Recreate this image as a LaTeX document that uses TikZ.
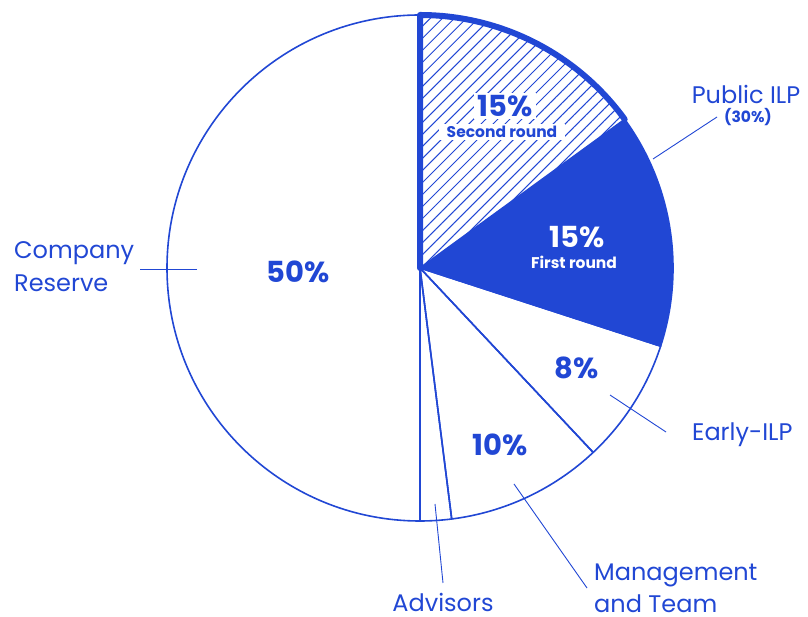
\documentclass[tikz,border=0pt]{standalone}
\usepackage{fontspec}
\setmainfont{Poppins}
\usetikzlibrary{patterns.meta,calc}
\definecolor{pblue}{RGB}{33,71,212}
\begin{document}
\begin{tikzpicture}[x=1pt,y=1pt,
  edge/.style={draw=pblue,line width=1.6pt,line join=round},
  leader/.style={draw=pblue,line width=0.9pt},
  biglabel/.style={text=pblue,font=\fontsize{24}{29}\selectfont,inner sep=0pt},
  pct/.style={text=pblue,font=\fontsize{29}{34}\selectfont\bfseries,inner sep=1pt},
  sub/.style={text=pblue,font=\fontsize{15.5}{18}\selectfont\bfseries,inner sep=1pt}]
\useasboundingbox (0,0) rectangle (808,617);
\def\R{253}
\coordinate (C) at (420,349);
% company reserve
\draw[edge] (C) -- ($(C)+(90:\R)$) arc[start angle=90,end angle=270,radius=\R] -- cycle;
% advisors
\draw[edge] (C) -- ($(C)+(-82.8:\R)$) arc[start angle=-82.8,end angle=-90,radius=\R] -- cycle;
% management
\draw[edge] (C) -- ($(C)+(-46.8:\R)$) arc[start angle=-46.8,end angle=-82.8,radius=\R] -- cycle;
% early
\draw[edge] (C) -- ($(C)+(-18:\R)$) arc[start angle=-18,end angle=-46.8,radius=\R] -- cycle;
% first round
\draw[edge,fill=pblue] (C) -- ($(C)+(36:\R)$) arc[start angle=36,end angle=-18,radius=\R] -- cycle;
% second round hatched
\fill[pattern={Lines[angle=45,distance=8.5pt,line width=1pt]},pattern color=pblue]
  (C) -- ($(C)+(90:\R)$) arc[start angle=90,end angle=36,radius=\R] -- cycle;
\draw[draw=pblue,line width=6pt,line join=round,line cap=round]
  ($(C)+(36:\R)$) arc[start angle=36,end angle=90,radius=\R] -- (C);
% percentage labels
\node[pct,fill=white,inner xsep=4pt,inner ysep=2pt] (p2) at (505,511) {15\%};
\node[sub,fill=white,inner xsep=8pt,inner ysep=2pt] (s2) at (502,485) {Second round};
\node[pct,text=white] (p1) at (577,380) {15\%};
\node[sub,text=white] (s1) at (574,355) {First round};
\node[pct] (p8) at (577,249) {8\%};
\node[pct] (p10) at (500,172) {10\%};
\node[pct] (p50) at (298,345) {50\%};
% outer labels
\node[biglabel] (lpub) at (746,523) {Public ILP};
\node[sub] (lpub2) at (748,500) {(30\%)};
\node[biglabel,anchor=west,align=left,font=\fontsize{24}{33}\selectfont] (lcomp) at (14,350) {Company\\Reserve};
\node[biglabel,anchor=west] (learly) at (692,182) {Early-ILP};
\node[biglabel] (ladv) at (443,15) {Advisors};
\node[biglabel,anchor=west,align=left,font=\fontsize{24}{32}\selectfont] (lman) at (594,29) {Management\\and Team};
% leader lines
\coordinate (a1) at (653,458); \coordinate (a2) at (717,500);
\coordinate (b1) at (197,348); \coordinate (b2) at (140,348);
\coordinate (c1) at (435,113); \coordinate (c2) at (443,34);
\coordinate (d1) at (514,133); \coordinate (d2) at (587,29);
\coordinate (e1) at (610,222); \coordinate (e2) at (666,185);
\draw[leader] (a1) -- (a2);
\draw[leader] (b1) -- (b2);
\draw[leader] (c1) -- (c2);
\draw[leader] (d1) -- (d2);
\draw[leader] (e1) -- (e2);
\end{tikzpicture}
\end{document}
